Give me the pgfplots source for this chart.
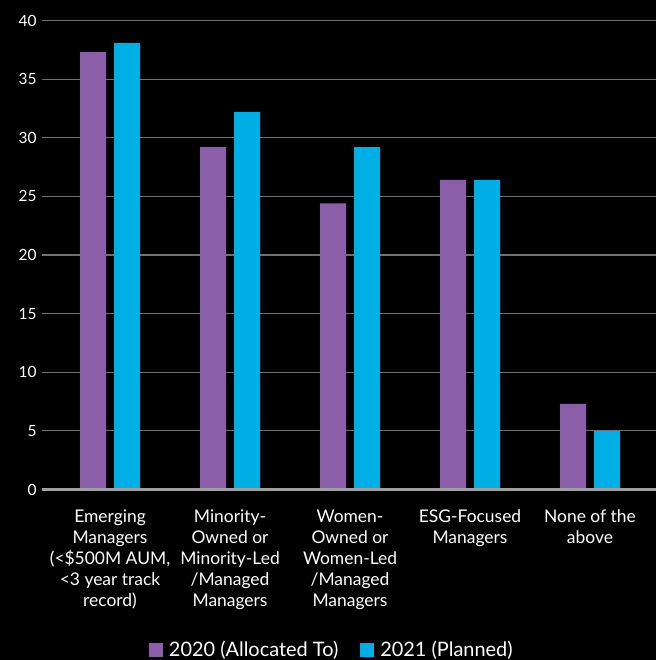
\documentclass[border=0pt]{standalone}
\usepackage{pgfplots}
\pgfplotsset{compat=1.18}
\usepackage{fontspec}
\setmainfont{Lato}
\definecolor{cpurple}{HTML}{8A5EA8}
\definecolor{ccyan}{HTML}{00AEE6}
\definecolor{cgrid}{HTML}{707070}
\definecolor{caxis}{HTML}{A0A0A0}
\begin{document}
\begin{tikzpicture}
\useasboundingbox (-42bp,-170.5bp) rectangle (614bp,489.5bp);
\fill[black] (-42bp,-170.5bp) rectangle (614bp,489.5bp);
\begin{axis}[
  scale only axis,
  width=614bp, height=469bp,
  xmin=-0.567, xmax=4.55,
  ymin=0, ymax=40,
  ytick={0,5,...,40},
  xtick=data,
  xticklabels={{Emerging\\Managers\\(<\$500M AUM,\\<3 year track\\record)},
    {Minority-\\Owned or\\Minority-Led\\/Managed\\Managers},
    {Women-\\Owned or\\Women-Led\\/Managed\\Managers},
    {ESG-Focused\\Managers},
    {None of the\\above}},
  xticklabel style={align=center, anchor=north, yshift=-17bp, font=\fontsize{17.5}{21}\selectfont, text=white},
  yticklabel style={font=\fontsize{15.5}{18}\selectfont, text=white, xshift=-2bp},
  /pgf/number format/assume math mode=true,
  major tick length=0pt,
  axis line style={draw=none},
  ymajorgrids,
  grid style={cgrid, line width=1.2bp},
  ybar, bar width=26bp,
  legend style={at={(0.472,-0.342)}, anchor=center, draw=none, fill=none, text=white,
    font=\fontsize{20}{22}\selectfont, legend columns=2,
    /tikz/every odd column/.append style={column sep=4bp},
    /tikz/every even column/.append style={column sep=20bp}},
  legend image code/.code={\fill[#1] (0bp,-7bp) rectangle (14bp,7bp);},
  clip=false,
]
\addplot[fill=cpurple, draw=none, bar shift=-17bp] coordinates {(0,37.3) (1,29.2) (2,24.4) (3,26.4) (4,7.3)};
\addplot[fill=ccyan, draw=none, bar shift=17bp] coordinates {(0,38.1) (1,32.2) (2,29.2) (3,26.4) (4,5.0)};
\legend{2020 (Allocated To), 2021 (Planned)}
\draw[caxis, line width=2.5bp] (axis cs:-0.567,0) -- (axis cs:4.55,0);
\end{axis}
\end{tikzpicture}
\end{document}
